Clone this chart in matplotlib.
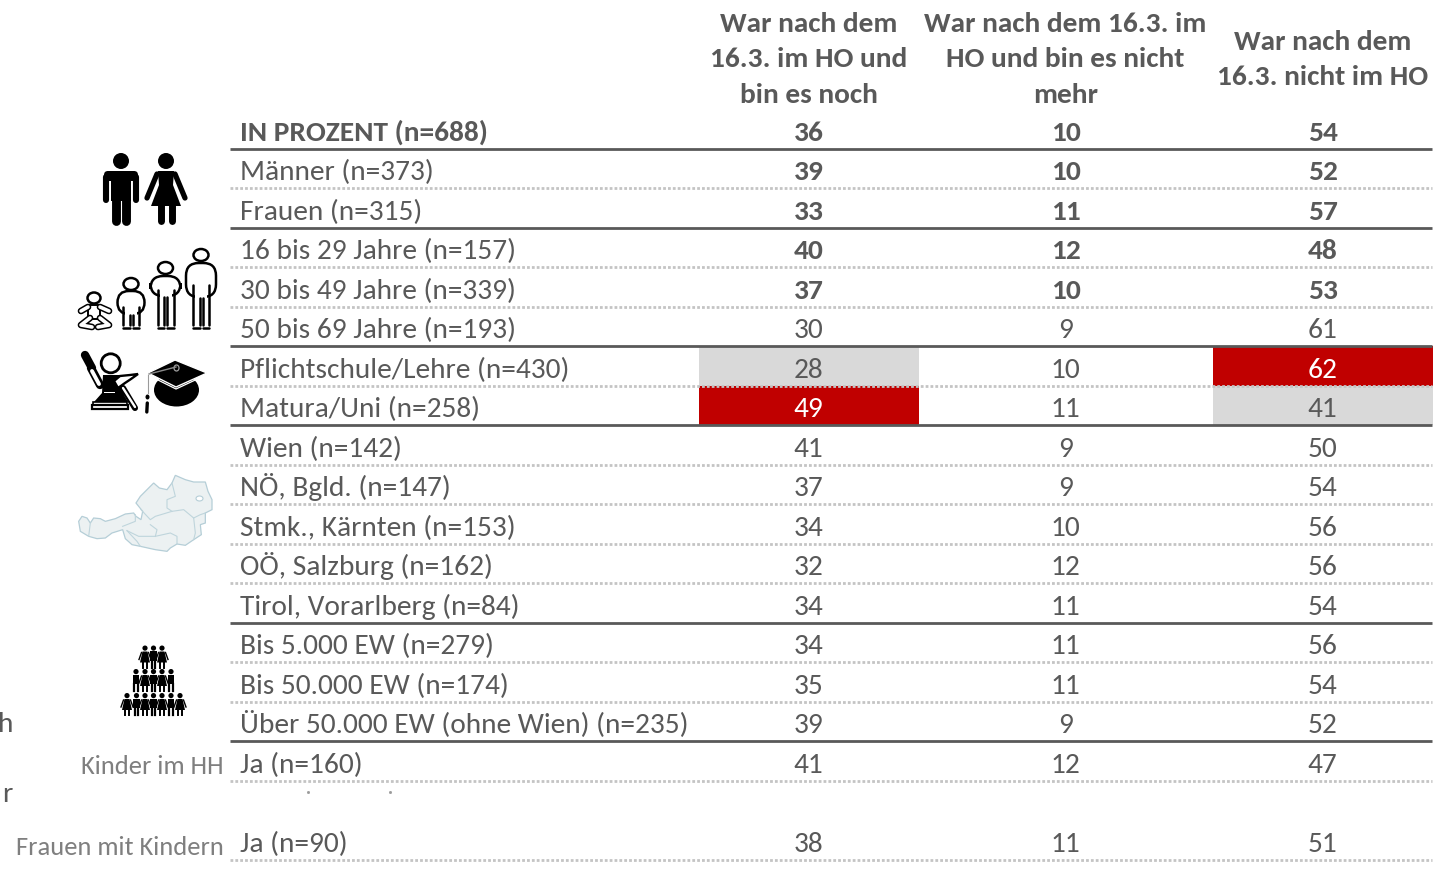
import matplotlib
matplotlib.use("Agg")
import matplotlib.pyplot as plt
from matplotlib.patches import Circle, Ellipse, Polygon, FancyBboxPatch, Rectangle

plt.rcParams["font.family"] = ["Carlito", "Lato", "DejaVu Sans"]

headers = [
    ["War nach dem", "16.3. im HO und", "bin es noch"],
    ["War nach dem 16.3. im", "HO und bin es nicht", "mehr"],
    ["War nach dem", "16.3. nicht im HO"],
]
labels = [
    "IN PROZENT (n=688)", "Männer (n=373)", "Frauen (n=315)", "16 bis 29 Jahre (n=157)",
    "30 bis 49 Jahre (n=339)", "50 bis 69 Jahre (n=193)", "Pflichtschule/Lehre (n=430)",
    "Matura/Uni (n=258)", "Wien (n=142)", "NÖ, Bgld. (n=147)", "Stmk., Kärnten (n=153)",
    "OÖ, Salzburg (n=162)", "Tirol, Vorarlberg (n=84)", "Bis 5.000 EW (n=279)",
    "Bis 50.000 EW (n=174)", "Über 50.000 EW (ohne Wien) (n=235)", "Ja (n=160)", "", "Ja (n=90)",
]
still_home = [36, 39, 33, 40, 37, 30, 28, 49, 41, 37, 34, 32, 34, 34, 35, 39, 41, None, 38]
home_ended = [10, 10, 11, 12, 10, 9, 10, 11, 9, 9, 10, 12, 11, 11, 11, 9, 12, None, 11]
never_home = [54, 52, 57, 48, 53, 61, 62, 41, 50, 54, 56, 56, 54, 56, 54, 52, 47, None, 51]
bold_rows = [0, 1, 2, 3, 4]
solid_after = [0, 2, 5, 7, 12, 15]
no_rule_after = [17]
red_cells = [(6, 2), (7, 0)]
grey_cells = [(6, 0), (7, 2)]
side_labels = [(16, "Kinder im HH", 2.0), (18, "Frauen mit Kindern", 4.0)]

DARK, MID, DOT, RED, GREY = "#595959", "#7f7f7f", "#c4c4c4", "#c00000", "#d9d9d9"
FS = 21.2
BASELINE = 10.5

fig = plt.figure(figsize=(14.46, 8.96), dpi=100)
ax = fig.add_axes([0, 0, 1, 1])
ax.set_xlim(0, 1446)
ax.set_ylim(896, 0)
ax.axis("off")

col_x = [808.5, 1065.5, 1322.7]
cell_x = [(699, 919), None, (1213, 1433)]
rule_x = (230, 1432)


def row_y(i):
    return 130.4 + 39.5 * i


def rule_y(i):
    return row_y(i) + 18.6


# Cell highlights sit beneath the rules and values
for cells, colour in ((grey_cells, GREY), (red_cells, RED)):
    for r, c in cells:
        x0, x1 = cell_x[c]
        ax.add_patch(Rectangle((x0, rule_y(r - 1)), x1 - x0, 39.5, fc=colour, ec="none", zorder=1))

for i in range(len(labels)):
    if i in no_rule_after:
        continue
    if i in solid_after:
        ax.plot(rule_x, [rule_y(i)] * 2, color=DARK, lw=2.0, zorder=2, solid_capstyle="butt")
    else:
        ax.plot(rule_x, [rule_y(i)] * 2, color=DOT, lw=2.0, ls=(0, (1, 0.75)), zorder=2)

for i, label in enumerate(labels):
    weight = "bold" if i == 0 else "normal"
    ax.text(240, row_y(i) + BASELINE, label, color=DARK, fontsize=FS, fontweight=weight,
            ha="left", va="baseline", zorder=3)
    for c, series in enumerate((still_home, home_ended, never_home)):
        v = series[i]
        if v is None:
            continue
        colour = "white" if (i, c) in red_cells else DARK
        ax.text(col_x[c], row_y(i) + BASELINE, str(v), color=colour, fontsize=FS,
                fontweight="bold" if i in bold_rows else "normal",
                ha="center", va="baseline", zorder=3)

for c, lines in enumerate(headers):
    start = 21.3 if len(lines) == 3 else 39.3
    for j, line in enumerate(lines):
        ax.text(col_x[c], start + BASELINE + 35.4 * j, line, color=DARK, fontsize=FS, fontweight="bold",
                ha="center", va="baseline")

for r, text, dy in side_labels:
    ax.text(224, row_y(r) + BASELINE + dy - 1.0, text, color=MID, fontsize=19.05, ha="right", va="baseline")

# Ends of the labels that run up to the left edge
ax.text(-2.5, 731.5, "h", color=DARK, fontsize=FS, ha="left", va="baseline")
ax.text(2.5, 802.5, "r", color=DARK, fontsize=FS, ha="left", va="baseline")
ax.plot([308, 390], [792, 792], ls="none", marker="s", ms=1, color="#9a9a9a")


def person_man(x, top):
    ax.add_patch(Circle((x, top + 8), 8, fc="black", ec="none"))
    ax.add_patch(FancyBboxPatch((x - 17, top + 18), 34, 10, boxstyle="round,pad=0,rounding_size=4", fc="black", ec="none"))
    ax.add_patch(Rectangle((x - 10, top + 20), 20, 28, fc="black", ec="none"))
    for sign in (-1, 1):
        ax.plot([x + sign * 15] * 2, [top + 24, top + 47], color="black", lw=4.4, solid_capstyle="round")
        ax.plot([x + sign * 5.3] * 2, [top + 45, top + 68], color="black", lw=6.4, solid_capstyle="round")


def person_woman(x, top):
    ax.add_patch(Circle((x, top + 8), 8, fc="black", ec="none"))
    ax.add_patch(Polygon([(x - 8, top + 18), (x + 8, top + 18), (x + 7, top + 32), (x + 15, top + 53),
                          (x - 15, top + 53), (x - 7, top + 32)], fc="black", ec="none"))
    for sign in (-1, 1):
        ax.plot([x + sign * 9, x + sign * 19], [top + 21, top + 45], color="black", lw=3.8, solid_capstyle="round")
        ax.plot([x + sign * 5.5] * 2, [top + 50, top + 68], color="black", lw=5, solid_capstyle="round")


def mini_person(x, top, dress):
    ax.add_patch(Circle((x, top + 2.6), 2.6, fc="black", ec="none"))
    if dress:
        ax.add_patch(Polygon([(x - 2.5, top + 6), (x + 2.5, top + 6), (x + 5, top + 17), (x - 5, top + 17)], fc="black", ec="none"))
        for sign in (-1, 1):
            ax.plot([x + sign * 3.5, x + sign * 6], [top + 7, top + 14], color="black", lw=1.0)
            ax.plot([x + sign * 1.8] * 2, [top + 16, top + 22.5], color="black", lw=1.4)
    else:
        ax.add_patch(Rectangle((x - 3.3, top + 6), 6.6, 9.5, fc="black", ec="none"))
        for sign in (-1, 1):
            ax.plot([x + sign * 1.7] * 2, [top + 15, top + 22.5], color="black", lw=1.6)


def outline_person(x, head_y, body_top, body_bot, half_w, inner_top, leg_bot):
    kw = dict(color="black", lw=1.8, solid_capstyle="round")
    ax.add_patch(Ellipse((x, head_y), 15, 12, fc="white", ec="black", lw=1.8))
    ax.add_patch(FancyBboxPatch((x - half_w, body_top), 2 * half_w, body_bot - body_top,
                                boxstyle=f"round,pad=0,rounding_size={half_w * 0.85}", fc="white", ec="black", lw=1.8))
    ax.add_patch(Rectangle((x - 6, body_bot - 3), 12, 5, fc="white", ec="none", zorder=2.5))
    for sign in (-1, 1):
        ax.plot([x + sign * 8] * 2, [inner_top, leg_bot - 3], zorder=3, **kw)
        ax.plot([x + sign * 1.5] * 2, [body_bot + 1, leg_bot - 3], zorder=3, **kw)
        ax.plot([x + sign * 1.5, x + sign * 8], [leg_bot, leg_bot], zorder=3, **kw)


person_man(121, 153)
person_woman(166, 153)

# Life stages: baby, child, two adults
baby_paths = [[(88, 307), (81, 311)], [(100, 307), (109, 311)],
              [(90, 318), (81, 325), (92, 327)], [(100, 318), (109, 325), (98, 327)]]
for path in baby_paths:
    ax.plot(*zip(*path), color="black", lw=4.8, solid_capstyle="round", solid_joinstyle="round")
    ax.plot(*zip(*path), color="white", lw=2.6, solid_capstyle="round", solid_joinstyle="round")
ax.add_patch(Ellipse((94, 298), 13, 11, fc="white", ec="black", lw=1.8))
ax.add_patch(FancyBboxPatch((88, 305), 12, 14, boxstyle="round,pad=0,rounding_size=2", fc="white", ec="black", lw=1.4))
outline_person(131, 284, 291, 314, 13.5, 307, 328)
outline_person(165.5, 268, 276, 296, 15, 290, 328)
outline_person(201, 255, 263, 297, 15, 285, 328)

# Tradesperson with tools
ax.plot([85, 92], [355, 368], color="black", lw=6, solid_capstyle="round")
ax.plot([91, 100], [368, 385], color="black", lw=6, solid_capstyle="round")
ax.plot([92, 99], [371, 384], color="white", lw=2.8, solid_capstyle="round")
ax.add_patch(Polygon([(103, 375), (122, 375), (124, 395), (128, 402), (94, 402), (102, 393)], fc="black", ec="none"))
ax.add_patch(Rectangle((104, 392), 11, 1.5, fc="white", ec="none"))
ax.add_patch(Circle((110.7, 363.3), 9.5, fc="white", ec="black", lw=2))
ax.add_patch(Rectangle((93, 402), 34, 3, fc="white", ec="black", lw=1.2))
ax.add_patch(Rectangle((92, 405), 36, 4.5, fc="white", ec="black", lw=1.6))
ax.plot([123, 135], [388, 408], color="black", lw=4.4, solid_capstyle="round")
ax.plot([123, 135], [388, 407], color="white", lw=1.7, solid_capstyle="round")
ax.add_patch(Polygon([(114, 381), (120, 376), (130, 375), (138, 374), (131, 379), (125, 383), (118, 388)],
                     fc="white", ec="black", lw=1.7))

# Graduation cap
ax.add_patch(Ellipse((176.5, 390), 45, 33, fc="black", ec="none"))
ax.add_patch(Polygon([(148, 373), (175, 360), (207, 373), (176, 387)], fc="black", ec="white", lw=1.0))
ax.plot([148, 176, 206], [375, 389, 375], color="white", lw=0.9)
ax.plot([149, 176], [374, 367], color="#8a8a8a", lw=1)
ax.add_patch(Ellipse((176.5, 368), 5, 6, fc="none", ec="#a0a0a0", lw=0.9))
ax.plot([148, 148], [375, 393], color="#9a9a9a", lw=0.8)
ax.add_patch(Ellipse((147.5, 397), 4, 5, fc="black", ec="none"))
ax.plot([147.3, 146.8], [403, 412], color="black", lw=2.4, solid_capstyle="round")

# Map of Austria, traced at three times its drawn size
outer = [(20, 160), (30, 145), (45, 150), (55, 165), (65, 150), (85, 152), (100, 160), (130, 152),
         (160, 138), (185, 135), (192, 145), (207, 155), (212, 130), (192, 105), (205, 85), (225, 65),
         (245, 45), (262, 60), (285, 65), (300, 45), (310, 22), (340, 35), (365, 42), (400, 42),
         (408, 70), (420, 95), (420, 125), (400, 135), (400, 165), (385, 170), (388, 200), (365, 215),
         (340, 232), (315, 228), (295, 240), (285, 250), (250, 245), (205, 235), (180, 230), (160, 212),
         (152, 185), (120, 195), (100, 210), (75, 212), (50, 205), (25, 190)]
borders = [[(55, 165), (50, 205)],
           [(152, 175), (190, 160), (190, 140)],
           [(165, 188), (200, 205), (250, 205), (295, 195), (315, 205), (315, 228)],
           [(165, 188), (195, 220), (205, 235)],
           [(207, 125), (235, 155), (250, 145), (300, 130), (335, 125), (365, 150), (370, 195), (365, 215)],
           [(235, 170), (255, 185), (250, 205)],
           [(300, 45), (310, 85), (285, 95), (285, 120), (300, 130)],
           [(365, 150), (385, 140), (400, 135)]]


def map_px(points):
    return [(72 + x / 3, 468 + y / 3) for x, y in points]


ax.add_patch(Polygon(map_px(outer), fc="#ecf1f2", ec="#b5ced7", lw=0.9))
for path in borders:
    ax.plot(*zip(*map_px(path)), color="#bfd5dc", lw=0.8)
ax.add_patch(Ellipse((199.5, 498.5), 7, 5, fc="white", ec="#b5ced7", lw=0.8))

# Population pyramid of small figures
pyramid = [(645.5, [145, 153.5, 162]), (669, [136, 145, 153.5, 162, 171]),
           (693, [127, 136.5, 145, 153.5, 162, 171, 180])]
for top, xs in pyramid:
    for k, x in enumerate(xs):
        mini_person(x, top, (k - len(xs) // 2) % 2 == 1)

fig.savefig("out.png", dpi=100, facecolor="white")
